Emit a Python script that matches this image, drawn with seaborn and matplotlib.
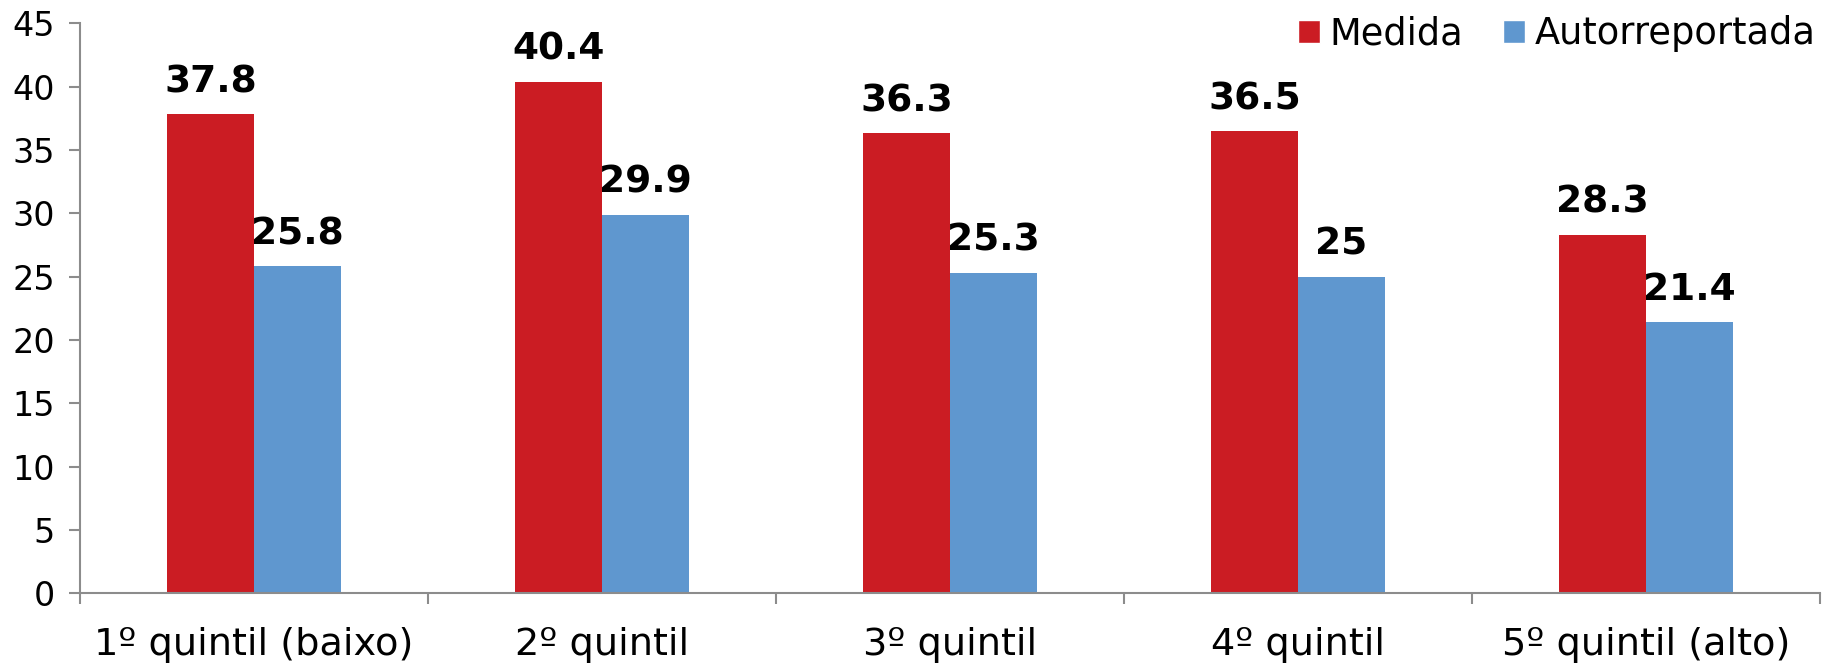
import pandas as pd
import matplotlib
matplotlib.use('Agg')
import matplotlib.pyplot as plt
from matplotlib.patches import Patch
import seaborn as sns

# --- Data ---
categories = ['1º quintil (baixo)', '2º quintil', '3º quintil', '4º quintil', '5º quintil (alto)']
medida = [37.8, 40.4, 36.3, 36.5, 28.3]
autorreportada = [25.8, 29.9, 25.3, 25, 21.4]
series_names = ['Medida', 'Autorreportada']
colors = ['#CB1C23', '#5F97CF']

df = pd.DataFrame({
    'Quintil': categories * 2,
    'Valor': medida + autorreportada,
    'Tipo': [series_names[0]] * len(categories) + [series_names[1]] * len(categories),
})

sns.set_style('white')
plt.rcParams['font.family'] = ['DejaVu Sans']
plt.rcParams['text.color'] = 'black'
plt.rcParams['xtick.color'] = '#8c8c8c'
plt.rcParams['ytick.color'] = '#8c8c8c'
plt.rcParams['xtick.labelcolor'] = 'black'
plt.rcParams['ytick.labelcolor'] = 'black'

fig = plt.figure(figsize=(18.29, 6.65), dpi=100)
ax = fig.add_axes([0.0437, 0.108, 0.9513, 0.857])

sns.barplot(data=df, x='Quintil', y='Valor', hue='Tipo', order=categories,
            hue_order=series_names, palette=colors, width=0.5, saturation=1,
            linewidth=0, ax=ax, legend=False)

# data labels
for container in ax.containers:
    labels = [f'{v:g}' for v in container.datavalues]
    ax.bar_label(container, labels=labels, padding=10, fontsize=27,
                 fontweight='bold', color='black')

ax.set_ylim(0, 45)
ax.set_xlim(-0.5, len(categories) - 0.5)
ax.set_yticks(range(0, 46, 5))
ax.set_xlabel('')
ax.set_ylabel('')

# ticks at the category boundaries, as in the original
ax.set_xticks([i - 0.5 for i in range(len(categories) + 1)], minor=True)
ax.tick_params(axis='x', which='major', bottom=True, length=0, pad=24, labelsize=27.5)
ax.tick_params(axis='x', which='minor', bottom=True, length=8, width=1.5, direction='out')
ax.tick_params(axis='y', left=True, length=8, width=1.5, direction='out',
               pad=10, labelsize=24)

for side in ['top', 'right']:
    ax.spines[side].set_visible(False)
for side in ['left', 'bottom']:
    ax.spines[side].set_color('#8c8c8c')
    ax.spines[side].set_linewidth(1.5)

handles = [Patch(facecolor=c, label=n) for c, n in zip(colors, series_names)]
ax.legend(handles=handles, loc='upper right', bbox_to_anchor=(1.006, 1.04), ncol=2,
          frameon=False, fontsize=26.5, handlelength=0.6, handleheight=0.6,
          handletextpad=0.25, columnspacing=1.1, borderaxespad=0)

fig.savefig('out.png', dpi=100)
